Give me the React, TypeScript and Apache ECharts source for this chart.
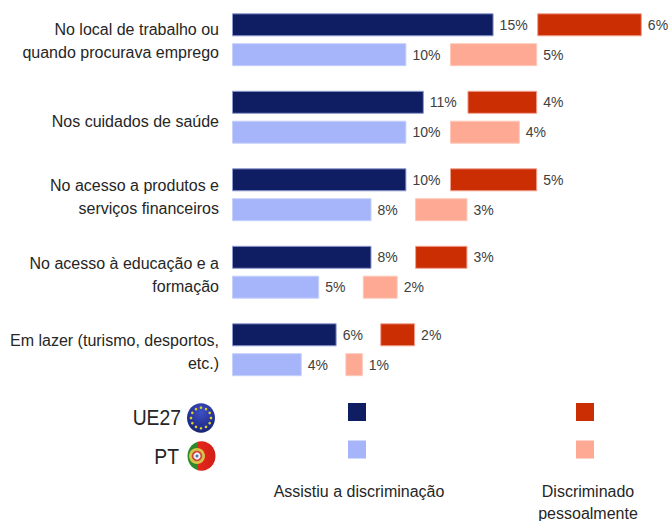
import React, { useEffect, useRef } from "react";
import * as echarts from "echarts";

const categories = [
  "No local de trabalho ou\nquando procurava emprego",
  "Nos cuidados de saúde",
  "No acesso a produtos e\nserviços financeiros",
  "No acesso à educação e a\nformação",
  "Em lazer (turismo, desportos,\netc.)",
];
const witnessedEU = [15, 11, 10, 8, 6];
const witnessedPT = [10, 10, 8, 5, 4];
const personalEU = [6, 4, 5, 3, 2];
const personalPT = [5, 4, 3, 2, 1];
const spacer = [2.5, 2.5, 2.5, 2.5, 2.5];
const labelPush = [2, 8, 5, 5, 5];

const NAVY = "#0F1D62";
const PERI = "#A6B4FA";
const RED = "#CC2E04";
const SALMON = "#FDA994";
const TEXT = "#262626";
const FONT = "'Liberation Sans', Arial, sans-serif";

const bar = (name: string, stack: string, data: number[], color: string, border: string) => ({
  name,
  type: "bar",
  stack,
  data,
  barWidth: 23,
  barGap: "30%",
  itemStyle: { color, borderColor: border, borderWidth: 1 },
  label: {
    show: true,
    position: "right",
    distance: 6,
    formatter: "{c}%",
    color: "#404040",
    fontSize: 14,
    fontFamily: FONT,
  },
  silent: true,
});
const gap = (stack: string) => ({
  name: "gap-" + stack,
  type: "bar",
  stack,
  data: spacer,
  barWidth: 23,
  barGap: "30%",
  itemStyle: { color: "transparent" },
  silent: true,
});

const square = (x: number, y: number, fill: string) => ({
  type: "rect",
  shape: { x, y, width: 18, height: 18 },
  style: { fill },
});
const label = (x: number, y: number, text: string, fontSize: number, align: string, scaleX = 1) => ({
  type: "text",
  x,
  y,
  scaleX,
  style: { text, fontSize, fontFamily: FONT, fill: TEXT, align, verticalAlign: "middle" },
});

const starAngles = [0, 30, 60, 90, 120, 150, 180, 210, 240, 270, 300, 330];
const euFlag = (cx: number, cy: number) => [
  {
    type: "ellipse",
    shape: { cx, cy, rx: 14, ry: 14.7 },
    style: {
      fill: new echarts.graphic.RadialGradient(0.5, 0.3, 0.8, [
        { offset: 0, color: "#3F50C4" },
        { offset: 0.7, color: "#1F2C8C" },
        { offset: 1, color: "#141C5C" },
      ]),
    },
  },
  ...starAngles.map((a) => ({
    type: "circle",
    shape: {
      cx: cx + 10 * Math.cos((a * Math.PI) / 180),
      cy: cy + 10.3 * Math.sin((a * Math.PI) / 180),
      r: 1.3,
    },
    style: { fill: "#E0CF2E" },
  })),
];
const ptFlag = (cx: number, cy: number) => [
  {
    type: "ellipse",
    shape: { cx, cy, rx: 14, ry: 14.7 },
    style: {
      fill: new echarts.graphic.LinearGradient(0, 0, 1, 0, [
        { offset: 0, color: "#2C8A2A" },
        { offset: 0.36, color: "#2C8A2A" },
        { offset: 0.39, color: "#E4261C" },
        { offset: 1, color: "#D01F16" },
      ]),
    },
  },
  { type: "circle", shape: { cx: cx - 4.5, cy, r: 8 }, style: { fill: "#D9C14A" } },
  { type: "circle", shape: { cx: cx - 4.5, cy, r: 5.2 }, style: { fill: "#C9453A" } },
  { type: "circle", shape: { cx: cx - 4.5, cy, r: 3.6 }, style: { fill: "#F0F0F0" } },
  { type: "circle", shape: { cx: cx - 4.5, cy, r: 1.5 }, style: { fill: "#5B6FB5" } },
];

const richLines = Object.fromEntries([
  ...labelPush.map((h, i) => [`s${i}`, { lineHeight: h, fontSize: 1 }]),
  ["t", { lineHeight: 23, fontSize: 16, fontFamily: FONT, color: TEXT }],
]);

export default function App() {
  const ref = useRef<HTMLDivElement>(null);
  useEffect(() => {
    document.body.style.margin = "0";
    const chart = echarts.init(ref.current!, undefined, { renderer: "svg" });
    chart.setOption({
      animation: false,
      backgroundColor: "#ffffff",
      grid: { left: 232, top: 1, width: 436, height: 387.5 },
      xAxis: { type: "value", min: 0, max: 25, show: false },
      yAxis: {
        type: "category",
        inverse: true,
        data: categories,
        axisLine: { show: false },
        axisTick: { show: false },
        axisLabel: {
          margin: 13,
          color: TEXT,
          fontSize: 16,
          fontFamily: FONT,
          align: "right",
          rich: richLines,
          formatter: (value: string, i: number) =>
            `{s${i}| }\n` + value.split("\n").map((l) => `{t|${l}}`).join("\n"),
        },
      },
      series: [
        bar("Assistiu UE27", "ue", witnessedEU, NAVY, "#8F9AD0"),
        gap("ue"),
        bar("Discriminado UE27", "ue", personalEU, RED, "#F0A090"),
        bar("Assistiu PT", "pt", witnessedPT, PERI, "#C6D0FC"),
        gap("pt"),
        bar("Discriminado PT", "pt", personalPT, SALMON, "#FDC8BA"),
      ],
      graphic: [
        square(348, 403, NAVY),
        square(348, 440.5, PERI),
        square(576, 403, RED),
        square(576, 440.5, SALMON),
        label(181, 417, "UE27", 22.5, "right", 0.86),
        label(179, 456, "PT", 22.5, "right", 0.86),
        label(359, 491, "Assistiu a discriminação", 16, "center"),
        label(588, 491, "Discriminado", 16, "center"),
        label(588, 513, "pessoalmente", 16, "center"),
        ...euFlag(201, 418),
        ...ptFlag(201.5, 456),
      ],
    });
    return () => chart.dispose();
  }, []);
  return <div ref={ref} style={{ width: 669, height: 521 }} />;
}
